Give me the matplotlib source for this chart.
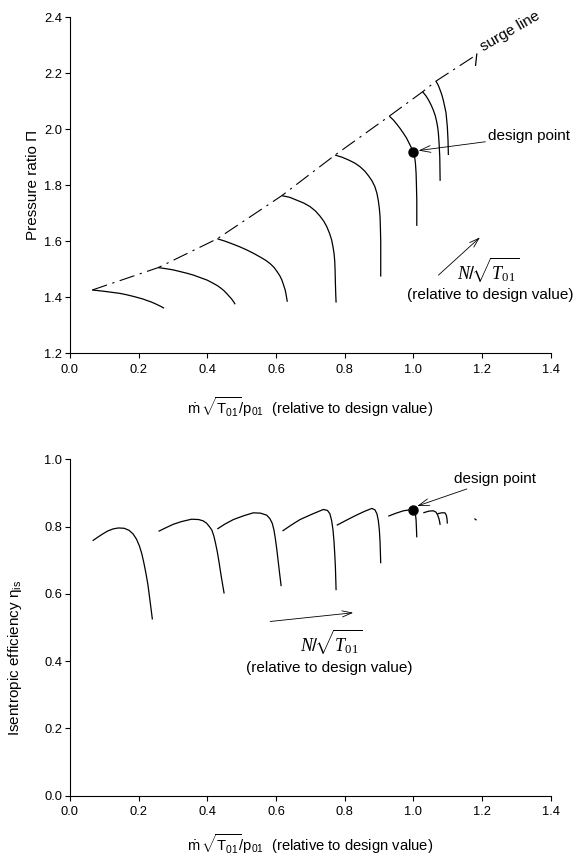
import matplotlib
matplotlib.use('Agg')
import matplotlib.pyplot as plt

plt.rcParams['font.family'] = ['Liberation Sans', 'DejaVu Sans']
plt.rcParams['mathtext.fontset'] = 'custom'
plt.rcParams['mathtext.rm'] = 'Liberation Sans'
plt.rcParams['mathtext.it'] = 'Liberation Serif:italic'
plt.rcParams['mathtext.sf'] = 'Liberation Serif'

# compressor map, speed lines: pressure ratio vs. corrected mass flow
pr_flow = [
	[0.065, 0.095, 0.120, 0.145, 0.165, 0.185, 0.200, 0.212, 0.223, 0.237, 0.250, 0.262, 0.274],
	[0.257, 0.280, 0.300, 0.320, 0.340, 0.360, 0.380, 0.400, 0.417, 0.430, 0.440, 0.448, 0.456,
	 0.464, 0.470, 0.476, 0.481],
	[0.429, 0.450, 0.470, 0.493, 0.515, 0.536, 0.555, 0.570, 0.583, 0.594, 0.603, 0.611, 0.617,
	 0.622, 0.627, 0.630, 0.633],
	[0.617, 0.640, 0.660, 0.680, 0.699, 0.715, 0.728, 0.739, 0.748, 0.756, 0.762, 0.766, 0.769,
	 0.771, 0.772, 0.773, 0.774, 0.775],
	[0.772, 0.793, 0.812, 0.830, 0.845, 0.859, 0.870, 0.880, 0.888, 0.894, 0.898, 0.901, 0.903,
	 0.904, 0.905, 0.905],
	[0.930, 0.942, 0.952, 0.962, 0.971, 0.980, 0.987, 0.994, 1.000, 1.004, 1.006, 1.007, 1.008,
	 1.009, 1.010, 1.010],
	[1.027, 1.037, 1.045, 1.052, 1.058, 1.064, 1.068, 1.071, 1.073, 1.075, 1.077, 1.078],
	[1.066, 1.073, 1.078, 1.083, 1.087, 1.091, 1.095, 1.097, 1.099, 1.100, 1.101, 1.102],
	[1.185, 1.181],
]
pr_ratio = [
	[1.426, 1.422, 1.418, 1.414, 1.409, 1.403, 1.398, 1.394, 1.389, 1.383, 1.376, 1.369, 1.361],
	[1.506, 1.502, 1.498, 1.492, 1.486, 1.479, 1.470, 1.461, 1.450, 1.441, 1.432, 1.424, 1.414,
	 1.403, 1.395, 1.385, 1.375],
	[1.609, 1.601, 1.592, 1.581, 1.569, 1.556, 1.543, 1.532, 1.520, 1.507, 1.492, 1.477, 1.462,
	 1.444, 1.425, 1.405, 1.384],
	[1.763, 1.757, 1.747, 1.737, 1.724, 1.708, 1.690, 1.672, 1.652, 1.628, 1.605, 1.580, 1.557,
	 1.530, 1.500, 1.450, 1.410, 1.381],
	[1.908, 1.900, 1.890, 1.879, 1.866, 1.850, 1.833, 1.815, 1.795, 1.771, 1.745, 1.717, 1.688,
	 1.650, 1.600, 1.474],
	[2.047, 2.033, 2.018, 2.002, 1.986, 1.969, 1.952, 1.935, 1.918, 1.899, 1.880, 1.862, 1.843,
	 1.800, 1.750, 1.655],
	[2.134, 2.119, 2.103, 2.086, 2.069, 2.048, 2.027, 2.006, 1.985, 1.950, 1.900, 1.816],
	[2.172, 2.156, 2.140, 2.123, 2.105, 2.083, 2.060, 2.035, 2.009, 1.985, 1.960, 1.908],
	[2.271, 2.226],
]

surge_flow = [0.065, 0.257, 0.429, 0.617, 0.772, 0.930, 1.027, 1.066, 1.175]
surge_ratio = [1.426, 1.506, 1.609, 1.763, 1.908, 2.047, 2.134, 2.172, 2.259]

# efficiency vs. corrected mass flow, same speed lines
eff_flow = [
	[0.066, 0.080, 0.095, 0.110, 0.125, 0.141, 0.158, 0.172, 0.184, 0.194, 0.202, 0.209, 0.215,
	 0.221, 0.227, 0.233, 0.240],
	[0.258, 0.280, 0.301, 0.325, 0.354, 0.375, 0.388, 0.398, 0.406, 0.413, 0.419, 0.424, 0.429,
	 0.434, 0.440, 0.449],
	[0.429, 0.452, 0.476, 0.505, 0.534, 0.555, 0.573, 0.582, 0.589, 0.594, 0.598, 0.602, 0.606,
	 0.610, 0.615],
	[0.619, 0.645, 0.670, 0.705, 0.738, 0.750, 0.757, 0.762, 0.766, 0.769, 0.771, 0.773, 0.775],
	[0.777, 0.805, 0.830, 0.857, 0.879, 0.888, 0.894, 0.898, 0.901, 0.903, 0.905],
	[0.927, 0.950, 0.971, 0.990, 1.000, 1.006, 1.008, 1.009, 1.010],
	[1.029, 1.045, 1.058, 1.066, 1.071, 1.075, 1.077, 1.078],
	[1.070, 1.082, 1.092, 1.096, 1.098, 1.099],
	[1.178, 1.184],
]
eff = [
	[0.758, 0.768, 0.778, 0.787, 0.793, 0.796, 0.795, 0.789, 0.778, 0.762, 0.743, 0.720, 0.693,
	 0.662, 0.627, 0.580, 0.524],
	[0.786, 0.797, 0.807, 0.815, 0.822, 0.821, 0.817, 0.810, 0.800, 0.790, 0.772, 0.750, 0.725,
	 0.695, 0.655, 0.601],
	[0.793, 0.808, 0.821, 0.832, 0.841, 0.840, 0.834, 0.824, 0.810, 0.790, 0.765, 0.735, 0.700,
	 0.665, 0.623],
	[0.787, 0.805, 0.821, 0.837, 0.851, 0.848, 0.838, 0.818, 0.790, 0.755, 0.720, 0.680, 0.611],
	[0.804, 0.819, 0.832, 0.845, 0.854, 0.850, 0.838, 0.818, 0.790, 0.755, 0.691],
	[0.831, 0.840, 0.847, 0.850, 0.849, 0.838, 0.819, 0.795, 0.768],
	[0.841, 0.846, 0.847, 0.843, 0.834, 0.822, 0.812, 0.805],
	[0.838, 0.841, 0.841, 0.834, 0.824, 0.809],
	[0.824, 0.819],
]

design_flow = 1.0
design_ratio = 1.918
design_eff = 0.848

x_ticks = [0.0, 0.2, 0.4, 0.6, 0.8, 1.0, 1.2, 1.4]
pr_ticks = [1.2, 1.4, 1.6, 1.8, 2.0, 2.2, 2.4]
eff_ticks = [0.0, 0.2, 0.4, 0.6, 0.8, 1.0]

XLABEL = r'$\dot{\mathrm{m}}\,\sqrt{\mathrm{T}_{01}}\!\!\;/\mathrm{p}_{01}$  (relative to design value)'
NLABEL = r'$N\!\!\;/\!\sqrt{T_{\mathsf{01}}}$'
REL = '(relative to design value)'

LW = 0.9
FS = 11
ARROW = dict(arrowstyle='->,head_length=0.7,head_width=0.22', lw=0.6, color='black',
			shrinkA=0, shrinkB=0)


def style_axes(ax, yticks, ylim):
	ax.set_xlim(0, 1.4)
	ax.set_ylim(*ylim)
	ax.set_xticks(x_ticks)
	ax.set_xticklabels(['%.1f' % t for t in x_ticks])
	ax.set_yticks(yticks)
	ax.set_yticklabels(['%.1f' % t for t in yticks])
	ax.spines['top'].set_visible(False)
	ax.spines['right'].set_visible(False)
	for s in ['left', 'bottom']:
		ax.spines[s].set_linewidth(0.8)
	ax.tick_params(axis='both', direction='out', length=3.5, width=0.8, labelsize=9.3)
	ax.tick_params(axis='x', pad=4)
	ax.tick_params(axis='y', pad=2)
	ax.set_xlabel(XLABEL, fontsize=10.6)
	ax.xaxis.label.set_va('center')


fig = plt.figure(figsize=(5.77, 8.56), dpi=100)
ax1 = fig.add_axes([0.1213, 0.5873, 0.8331, 0.3925])
ax2 = fig.add_axes([0.1213, 0.0704, 0.8331, 0.3930])

# top: pressure ratio map
for fx, fy in zip(pr_flow, pr_ratio):
	ax1.plot(fx, fy, color='black', lw=LW, solid_capstyle='butt')
ax1.plot(surge_flow, surge_ratio, color='black', lw=0.8, linestyle=(0, (14, 5, 2, 5)))
ax1.plot(design_flow, design_ratio, 'o', color='black', markersize=6.5)

ax1.text(1.282, 2.349, 'surge line', rotation=30, fontsize=FS, ha='center', va='center',
		rotation_mode='anchor')
ax1.annotate('design point', xy=(1.015, 1.924), xytext=(1.218, 1.976), fontsize=FS,
			ha='left', va='center', arrowprops=ARROW)
ax1.annotate('', xy=(1.194, 1.614), xytext=(1.073, 1.479), arrowprops=ARROW)
ax1.text(1.218, 1.497, NLABEL, fontsize=13, ha='center', va='center')
ax1.text(0.981, 1.408, REL, fontsize=FS, ha='left', va='center', clip_on=False)

style_axes(ax1, pr_ticks, (1.2, 2.4))
ax1.set_ylabel('Pressure ratio Π', fontsize=FS)
ax1.yaxis.label.set_va('center')
ax1.yaxis.set_label_coords(-0.077, 0.5)
ax1.xaxis.set_label_coords(0.5, -0.159)

# bottom: isentropic efficiency
for fx, fy in zip(eff_flow, eff):
	ax2.plot(fx, fy, color='black', lw=LW, solid_capstyle='butt')
ax2.plot(design_flow, design_eff, 'o', color='black', markersize=6.5)

ax2.annotate('design point', xy=(1.011, 0.861), xytext=(1.119, 0.941), fontsize=FS,
			ha='left', va='center', arrowprops=ARROW)
ax2.annotate('', xy=(0.825, 0.544), xytext=(0.583, 0.518), arrowprops=ARROW)
ax2.text(0.761, 0.457, NLABEL, fontsize=13, ha='center', va='center')
ax2.text(0.514, 0.379, REL, fontsize=FS, ha='left', va='center')

style_axes(ax2, eff_ticks, (0.0, 1.0))
ax2.set_ylabel(r'Isentropic efficiency $\mathrm{\eta_{is}}$', fontsize=FS)
ax2.yaxis.label.set_va('center')
ax2.yaxis.set_label_coords(-0.114, 0.409)
ax2.xaxis.set_label_coords(0.5, -0.143)

fig.savefig('out.png', dpi=100)
